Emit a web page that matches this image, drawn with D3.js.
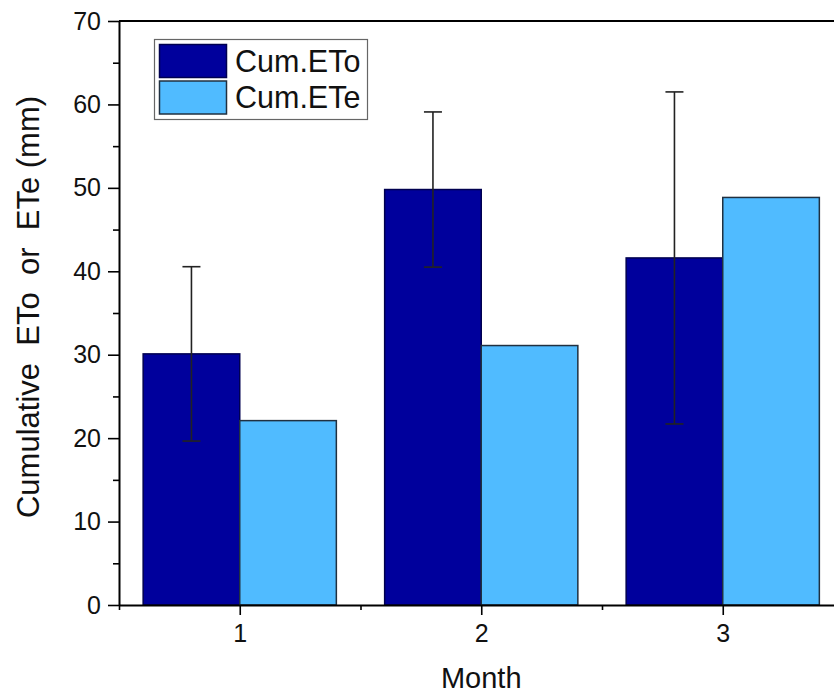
<!DOCTYPE html>
<html>
<head>
<meta charset="utf-8">
<script src="https://cdn.jsdelivr.net/npm/d3@7/dist/d3.min.js"></script>
<style>
  html, body { margin: 0; padding: 0; background: #fff; }
  svg { display: block; font-family: "Liberation Sans", Arial, sans-serif; }
  .tick text { font-size: 25px; fill: #111; font-family: "Liberation Sans", Arial, sans-serif; }
</style>
</head>
<body>
<svg id="chart" width="834" height="693"></svg>
<script>
// ---- data ----
const months = [1, 2, 3];
const cumETo = [30.1, 49.8, 41.6];
const cumETe = [22.1, 31.1, 48.85];
const cumEToErr = [10.45, 9.3, 19.9];
const seriesNames = ["Cum.ETo", "Cum.ETe"];
const yTicks = [0, 10, 20, 30, 40, 50, 60, 70];
const yMinorTicks = [5, 15, 25, 35, 45, 55, 65];
const xTicks = [1, 2, 3];
const xMinorTicks = [0.5, 1.5, 2.5, 3.5];
const xTitle = "Month";
const yTitle = "Cumulative  ETo  or  ETe (mm)";

// ---- styles ----
const colDark = "#00009C", colLight = "#50BBFF";
const strokeDark = "#000050", strokeLight = "#203040";
const barW = 0.4;

const svg = d3.select("#chart");
const x = d3.scaleLinear().domain([0.5, 3.5]).range([119, 843.5]);
const y = d3.scaleLinear().domain([0, 70]).range([605, 21]);

// bars
const g = svg.append("g");
g.selectAll("rect.eto").data(months).join("rect")
  .attr("x", (d) => x(d - barW))
  .attr("y", (d, i) => y(cumETo[i]))
  .attr("width", (d) => x(d) - x(d - barW))
  .attr("height", (d, i) => y(0) - y(cumETo[i]))
  .attr("fill", colDark).attr("stroke", strokeDark).attr("stroke-width", 1.5);
g.selectAll("rect.ete").data(months).join("rect")
  .attr("x", (d) => x(d))
  .attr("y", (d, i) => y(cumETe[i]))
  .attr("width", (d) => x(d + barW) - x(d))
  .attr("height", (d, i) => y(0) - y(cumETe[i]))
  .attr("fill", colLight).attr("stroke", strokeLight).attr("stroke-width", 1.5);

// error bars
const eb = svg.append("g").attr("stroke", "#222").attr("stroke-width", 1.6);
months.forEach((m, i) => {
  const cx = x(m - barW / 2);
  const lo = y(cumETo[i] - cumEToErr[i]), hi = y(cumETo[i] + cumEToErr[i]);
  eb.append("line").attr("x1", cx).attr("x2", cx).attr("y1", lo).attr("y2", hi);
  eb.append("line").attr("x1", cx - 9).attr("x2", cx + 9).attr("y1", hi).attr("y2", hi);
  eb.append("line").attr("x1", cx - 9).attr("x2", cx + 9).attr("y1", lo).attr("y2", lo);
});

// axes
function styleAxis(sel) {
  sel.attr("font-size", 25).attr("font-family", "'Liberation Sans', Arial, sans-serif");
  sel.selectAll("path").attr("stroke", "#000").attr("stroke-width", 2);
  sel.selectAll("line").attr("stroke", "#000").attr("stroke-width", 1.6);
  sel.selectAll("text").attr("fill", "#111");
}
const yAx = svg.append("g").attr("transform", "translate(119,0)")
  .call(d3.axisLeft(y).tickValues(yTicks).tickSize(11).tickSizeOuter(0).tickPadding(7));
styleAxis(yAx);
const yMin = svg.append("g").attr("transform", "translate(119,0)")
  .call(d3.axisLeft(y).tickValues(yMinorTicks).tickSize(6).tickSizeOuter(0).tickFormat(""));
styleAxis(yMin);
yMin.select("path").remove();

const xAx = svg.append("g").attr("transform", "translate(0,605)")
  .call(d3.axisBottom(x).tickValues(xTicks).tickSize(10).tickSizeOuter(0).tickPadding(9).tickFormat(d3.format("d")));
styleAxis(xAx);
const xMin = svg.append("g").attr("transform", "translate(0,605)")
  .call(d3.axisBottom(x).tickValues(xMinorTicks).tickSize(5).tickSizeOuter(0).tickFormat(""));
styleAxis(xMin);
xMin.select("path").remove();

// top & right frame
svg.append("line").attr("x1", 119).attr("x2", x(3.5)).attr("y1", 21).attr("y2", 21)
  .attr("stroke", "#000").attr("stroke-width", 2);
svg.append("line").attr("x1", x(3.5)).attr("x2", x(3.5)).attr("y1", 21).attr("y2", 605)
  .attr("stroke", "#000").attr("stroke-width", 2);

// titles
svg.append("text").attr("x", x(2)).attr("y", 688).attr("text-anchor", "middle")
  .attr("font-size", 29).attr("fill", "#111").text(xTitle);
svg.append("text").attr("transform", "translate(39,307) rotate(-90)")
  .attr("text-anchor", "middle").attr("font-size", 31).style("white-space", "pre")
  .attr("fill", "#111").text(yTitle);

// legend
const lg = svg.append("g");
lg.append("rect").attr("x", 154.5).attr("y", 39.5).attr("width", 213).attr("height", 80)
  .attr("fill", "#fff").attr("stroke", "#666").attr("stroke-width", 1.2);
const legCols = [[colDark, strokeDark], [colLight, strokeLight]];
seriesNames.forEach((name, i) => {
  lg.append("rect").attr("x", 159.5).attr("y", 44.5 + i * 36.5).attr("width", 67).attr("height", 33)
    .attr("fill", legCols[i][0]).attr("stroke", legCols[i][1]).attr("stroke-width", 1.5);
  lg.append("text").attr("x", 235).attr("y", 72 + i * 36)
    .attr("font-size", 30.5).attr("fill", "#111").text(name);
});
</script>
</body>
</html>
